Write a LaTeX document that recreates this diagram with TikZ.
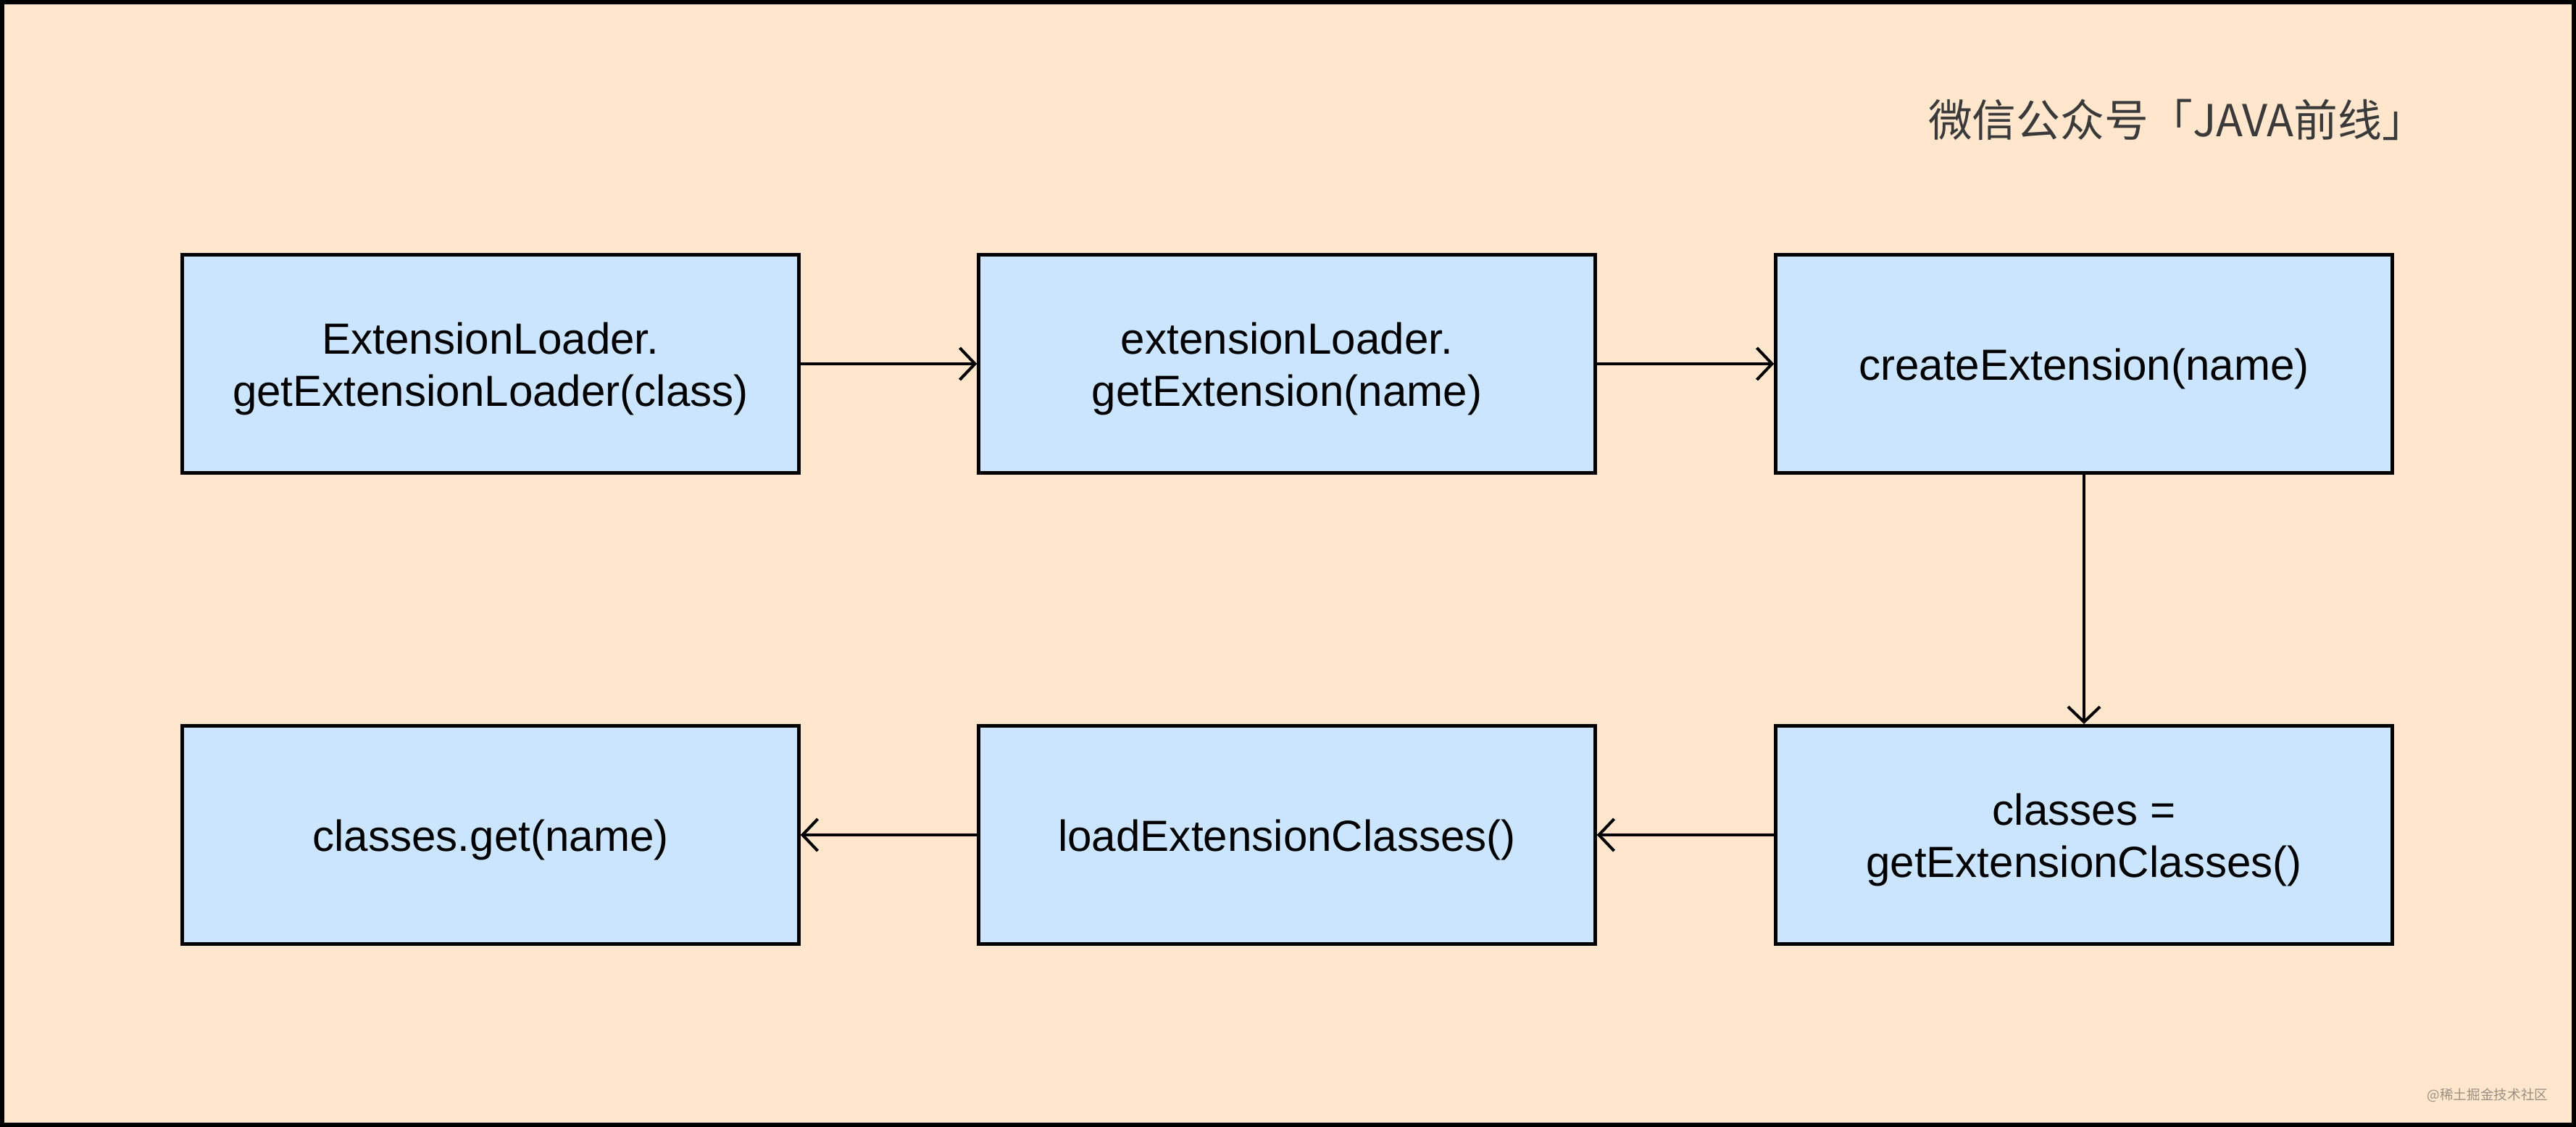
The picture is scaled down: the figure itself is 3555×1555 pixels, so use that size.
\documentclass[tikz,border=0pt]{standalone}
\usepackage{fontspec}
\setmainfont{Liberation Sans}
\newfontfamily\cjkfont{Noto Sans CJK SC}
\usetikzlibrary{arrows.meta}
\definecolor{bgpeach}{HTML}{FFE6CC}
\definecolor{boxblue}{HTML}{CCE5FF}
\definecolor{titlegray}{HTML}{3A3A3A}
\definecolor{wmgray}{HTML}{9A8F84}
\tikzset{
  flowbox/.style={draw=black, line width=1.4pt, fill=boxblue, minimum width=8.5cm, minimum height=3.01cm, inner sep=0pt},
  boxtext/.style={align=center, inner sep=0pt, yshift=-0.07cm, font=\fontsize{17.1}{20.5}\selectfont},
  flowarrow/.style={draw=black, line width=1.15pt, -{Straight Barb[length=0.21cm,width=0.44cm,line width=1.15pt]}}
}
\begin{document}
\begin{tikzpicture}[x=0.01cm,y=-0.01cm]
\useasboundingbox (0,0) rectangle (3555,1555);
\fill[bgpeach] (0,0) rectangle (3555,1555);
\draw[black, line width=1.6pt] (3,3) rectangle (3552,1552);
\node[anchor=east, text=titlegray, font=\cjkfont\fontsize{17.3}{20}\selectfont, inner sep=0pt] (title) at (3349,165) {微信公众号「JAVA前线」};
\node[anchor=east, text=wmgray, font=\cjkfont\fontsize{5.3}{6}\selectfont, inner sep=0pt] (wm) at (3517,1511) {@稀土掘金技术社区};
\node[flowbox, label={[boxtext]center:ExtensionLoader.\\getExtensionLoader(class)}] (b1) at (677,502) {};
\node[flowbox, label={[boxtext]center:extensionLoader.\\getExtension(name)}] (b2) at (1776,502) {};
\node[flowbox, label={[boxtext]center:createExtension(name)}] (b3) at (2876,502) {};
\node[flowbox, label={[boxtext]center:classes =\\getExtensionClasses()}] (b6) at (2876,1152) {};
\node[flowbox, label={[boxtext]center:loadExtensionClasses()}] (b5) at (1776,1152) {};
\node[flowbox, label={[boxtext]center:classes.get(name)}] (b4) at (677,1152) {};
\draw[flowarrow] (b1.east) -- (b2.west);
\draw[flowarrow] (b2.east) -- (b3.west);
\draw[flowarrow] (b3.south) -- (b6.north);
\draw[flowarrow] (b6.west) -- (b5.east);
\draw[flowarrow] (b5.west) -- (b4.east);
\end{tikzpicture}
\end{document}
